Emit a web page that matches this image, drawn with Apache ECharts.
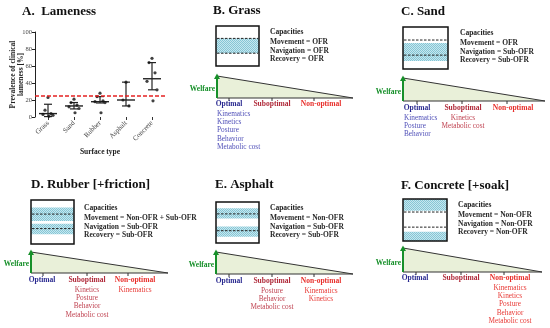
<!DOCTYPE html>
<html><head><meta charset="utf-8">
<script src="https://cdn.jsdelivr.net/npm/echarts@6/dist/echarts.min.js"></script>
<style>html,body{margin:0;padding:0;background:#fff}#c{width:550px;height:328px}</style>
</head><body><div id="c"></div>
<script>
// ---------- Data (panel A) ----------
const categories = ['Grass', 'Sand', 'Rubber', 'Asphalt', 'Concrete'];
const grassPts = [23, 8, 4, 3, 2, 1];
const sandPts = [21, 17, 14, 12, 10, 5];
const rubberPts = [28, 24, 19, 18, 17, 5];
const asphaltPts = [41, 20, 13];
const concretePts = [69, 64, 52, 42, 32, 19];
const medians = [4, 13, 18, 20, 45];
const lowerBars = [0.5, 9.5, 16.5, 13, 32];
const upperBars = [15, 17, 24, 41, 64];
const threshold = 25;
const yTicks = [0, 20, 40, 60, 80, 100];

// ---------- Texts (panels B-F) ----------
const panelTitles = ['B. Grass', 'C. Sand', 'D. Rubber [+friction]', 'E. Asphalt', 'F. Concrete [+soak]'];
const grassCaps = ['Movement = OFR', 'Navigation = OFR', 'Recovery = OFR'];
const sandCaps = ['Movement = OFR', 'Navigation = Sub-OFR', 'Recovery = Sub-OFR'];
const rubberCaps = ['Movement = Non-OFR + Sub-OFR', 'Navigation = Sub-OFR', 'Recovery = Sub-OFR'];
const asphaltCaps = ['Movement = Non-OFR', 'Navigation = Sub-OFR', 'Recovery = Sub-OFR'];
const concreteCaps = ['Movement = Non-OFR', 'Navigation = Non-OFR', 'Recovery = Non-OFR'];
const levelNames = ['Optimal', 'Suboptimal', 'Non-optimal'];
const grassLists = [['Kinematics', 'Kinetics', 'Posture', 'Behavior', 'Metabolic cost'], [], []];
const sandLists = [['Kinematics', 'Posture', 'Behavior'], ['Kinetics', 'Metabolic cost'], []];
const rubberLists = [[], ['Kinetics', 'Posture', 'Behavior', 'Metabolic cost'], ['Kinematics']];
const asphaltLists = [[], ['Posture', 'Behavior', 'Metabolic cost'], ['Kinematics', 'Kinetics']];
const concreteLists = [[], [], ['Kinematics', 'Kinetics', 'Posture', 'Behavior', 'Metabolic cost']];

// ---------- Layout (positions / styles) ----------
const layout = [
  {title: panelTitles[0], caps: grassCaps, lists: grassLists, tx: 213, ty: 11, box: [216, 26, 43, 40],
   bands: [[0.31, 0.68]], dashes: [0.31, 0.68], cx: 270, cy: 32, tri: [217, 76, 98, 353],
   ticks: [229, 272, 314], lx: [229, 272, 321], ly: 104},
  {title: panelTitles[1], caps: sandCaps, lists: sandLists, tx: 401, ty: 12, box: [403, 27, 45, 42],
   bands: [[0.38, 0.81]], dashes: [0.31, 0.67], cx: 460, cy: 33, tri: [403, 78, 101, 545],
   ticks: [417, 462, 507], lx: [417, 463, 513], ly: 108},
  {title: panelTitles[2], caps: rubberCaps, lists: rubberLists, tx: 31, ty: 185, box: [31, 200, 43, 44],
   bands: [[0.17, 0.48], [0.54, 0.78]], dashes: [0.32, 0.65], cx: 84, cy: 208, tri: [31, 252, 273, 168],
   ticks: [43, 87, 128], lx: [42, 87, 135], ly: 280},
  {title: panelTitles[3], caps: asphaltCaps, lists: asphaltLists, tx: 215, ty: 185, box: [216, 202, 43, 41],
   bands: [[0.15, 0.4], [0.6, 0.85]], dashes: [0.29, 0.7], cx: 270, cy: 208, tri: [216, 252, 274, 353],
   ticks: [229, 272, 314], lx: [229, 272, 321], ly: 281},
  {title: panelTitles[4], caps: concreteCaps, lists: concreteLists, tx: 401, ty: 186, box: [403, 199, 44, 42],
   bands: [[0, 0.28], [0.78, 1]], dashes: [0.31, 0.67], cx: 458, cy: 205, tri: [403, 248, 272, 542],
   ticks: [416, 461, 504], lx: [415, 461, 510], ly: 278}
];

const SERIF = '"Liberation Serif", "DejaVu Serif", serif';
const levelColors = ['#2a2a90', '#b02a3a', '#e8302c'];
const listColors = ['#5050b8', '#c04452', '#e83a36'];
const green = '#17902a';

// hatch pattern
const pc = document.createElement('canvas');
pc.width = 4; pc.height = 4;
const pctx = pc.getContext('2d');
pctx.fillStyle = '#c6e7ef'; pctx.fillRect(0, 0, 4, 4);
pctx.fillStyle = '#86c6d5';
for (let i = 0; i < 4; i++) { pctx.fillRect(i, i, 1, 1); pctx.fillRect((i + 2) % 4, i, 1, 1); }
const hatch = {image: pc, repeat: 'repeat'};

function txt(x, y, text, opts) {
  opts = opts || {};
  return {
    type: 'text', x: x, y: y, silent: true,
    style: {
      text: text, fill: opts.color || '#222',
      font: (opts.bold ? 'bold ' : '') + (opts.size || 7.5) + 'px ' + SERIF,
      textAlign: opts.align || 'left', align: opts.align || 'left',
      textVerticalAlign: 'middle', verticalAlign: 'middle'
    }
  };
}

const graphics = [];
graphics.push(txt(22, 12, 'A.  Lameness', {bold: true, size: 13, color: '#111'}));
layout.forEach(function (p) {
  graphics.push(txt(p.tx, p.ty, p.title, {bold: true, size: 13, color: '#111'}));
  const [bx, by, bw, bh] = p.box;
  p.bands.forEach(function (b) {
    graphics.push({type: 'rect', silent: true, shape: {x: bx, y: by + b[0] * bh, width: bw, height: (b[1] - b[0]) * bh},
      style: {fill: hatch, stroke: null}});
  });
  p.dashes.forEach(function (d) {
    graphics.push({type: 'line', silent: true, shape: {x1: bx + 1, y1: by + d * bh, x2: bx + bw - 1, y2: by + d * bh},
      style: {stroke: '#222', lineWidth: 1, lineDash: [2.5, 1.5]}});
  });
  graphics.push({type: 'rect', silent: true, shape: {x: bx, y: by, width: bw, height: bh},
    style: {fill: 'none', stroke: '#111', lineWidth: 1.5}});
  graphics.push(txt(p.cx, p.cy, 'Capacities', {bold: true}));
  p.caps.forEach(function (c, i) { graphics.push(txt(p.cx, p.cy + 10 + 8.6 * i, c, {bold: true, color: '#2a2a2a'})); });
  const [x0, yt, yb, x1] = p.tri;
  graphics.push({type: 'polygon', silent: true, shape: {points: [[x0, yt], [x0, yb], [x1, yb]]},
    style: {fill: '#e9f0d9', stroke: '#333', lineWidth: 1}});
  graphics.push({type: 'line', silent: true, shape: {x1: x0, y1: yb, x2: x0, y2: yt + 2},
    style: {stroke: green, lineWidth: 2}});
  graphics.push({type: 'polygon', silent: true, shape: {points: [[x0 - 3, yt + 3], [x0 + 3, yt + 3], [x0, yt - 2.5]]},
    style: {fill: green}});
  graphics.push(txt(x0 - 2, yb - 9, 'Welfare', {bold: true, color: green, align: 'right'}));
  p.ticks.forEach(function (t) {
    graphics.push({type: 'line', silent: true, shape: {x1: t, y1: yb, x2: t, y2: yb + 3}, style: {stroke: '#333', lineWidth: 1}});
  });
  levelNames.forEach(function (n, i) {
    graphics.push(txt(p.lx[i], p.ly, n, {bold: true, color: levelColors[i], align: 'center'}));
    p.lists[i].forEach(function (item, j) {
      const y = p.ly + 10 + 8.2 * j;
      if (i === 0) graphics.push(txt(bx + 1, y, item, {size: 7.3, color: listColors[0]}));
      else graphics.push(txt(p.lx[i], y, item, {size: 7.3, color: listColors[i], align: 'center'}));
    });
  });
});

// ---------- Panel A series ----------
const groups = [grassPts, sandPts, rubberPts, asphaltPts, concretePts];
const jitterPx = [0, -3, 3, -5, 5, 1];
const scatterData = [];
groups.forEach(function (g, ci) {
  g.forEach(function (v, i) { scatterData.push({value: [ci, v], symbolOffset: [jitterPx[i], 0]}); });
});
const barData = categories.map(function (c, i) { return [i, medians[i], lowerBars[i], upperBars[i]]; });

const chart = echarts.init(document.getElementById('c'), null, {renderer: 'canvas'});
chart.setOption({
  animation: false,
  grid: {left: 35, top: 32, width: 130, height: 85, containLabel: false},
  xAxis: {
    type: 'category', data: categories,
    axisLine: {show: false},
    axisTick: {show: true, alignWithLabel: true, length: 3, lineStyle: {color: '#333'}},
    axisLabel: {rotate: 45, fontSize: 7, fontFamily: SERIF, color: '#444', margin: 5},
    name: 'Surface type', nameLocation: 'middle', nameGap: 31, nameMoveOverlap: false,
    nameTextStyle: {fontFamily: SERIF, fontWeight: 'bold', fontSize: 7.5, color: '#222'}
  },
  yAxis: {
    type: 'value', min: 0, max: 100, interval: 20,
    axisLine: {show: true, lineStyle: {color: '#222', width: 1}},
    axisTick: {show: true, length: 3, lineStyle: {color: '#222'}},
    splitLine: {show: false},
    axisLabel: {fontSize: 6.5, fontFamily: SERIF, color: '#444', margin: 3,
      formatter: function (v) { return yTicks.indexOf(v) >= 0 ? String(v) : ''; }},
    name: 'Prevalence of clinical\nlameness [%]', nameLocation: 'middle', nameGap: 10, nameRotate: 90,
    nameMoveOverlap: false,
    nameTextStyle: {fontFamily: SERIF, fontWeight: 'bold', fontSize: 7.5, color: '#222', lineHeight: 8}
  },
  series: [
    {
      type: 'custom', data: barData, encode: {x: 0, y: [1, 2, 3]}, z: 3,
      renderItem: function (params, api) {
        const x = api.value(0);
        const m = api.coord([x, api.value(1)]);
        const lo = api.coord([x, api.value(2)]);
        const hi = api.coord([x, api.value(3)]);
        const st = {stroke: '#222', lineWidth: 1.2};
        return {type: 'group', children: [
          {type: 'line', shape: {x1: lo[0], y1: lo[1], x2: hi[0], y2: hi[1]}, style: st},
          {type: 'line', shape: {x1: lo[0] - 4, y1: lo[1], x2: lo[0] + 4, y2: lo[1]}, style: st},
          {type: 'line', shape: {x1: hi[0] - 4, y1: hi[1], x2: hi[0] + 4, y2: hi[1]}, style: st},
          {type: 'line', shape: {x1: m[0] - 9, y1: m[1], x2: m[0] + 9, y2: m[1]}, style: {stroke: '#222', lineWidth: 1.4}}
        ]};
      }
    },
    {
      type: 'scatter', data: scatterData, symbol: 'circle', symbolSize: 3.2, z: 4,
      itemStyle: {color: '#111'},
      markLine: {silent: true, symbol: 'none', label: {show: false},
        lineStyle: {color: '#e52222', type: [4, 2], width: 1.6},
        data: [{yAxis: threshold}]}
    }
  ],
  graphic: graphics
});
</script></body></html>
